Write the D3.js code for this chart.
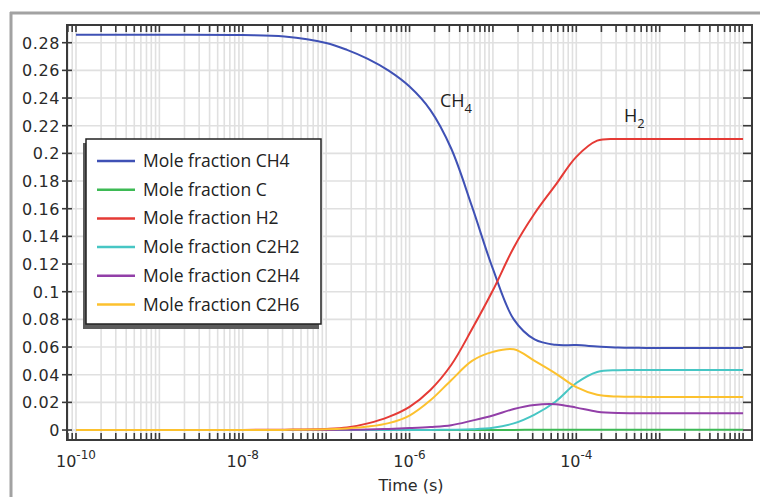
<!DOCTYPE html>
<html><head><meta charset="utf-8">
<script src="https://cdn.jsdelivr.net/npm/d3@7"></script>
<style>body{margin:0;background:#fff}svg{display:block}</style>
</head><body>
<svg id="c" width="760" height="497"></svg>
<script>
// ---- data ----
const timeS = [1e-10, 1e-9, 1e-8, 3.16e-8, 1e-7, 1.78e-7, 3.16e-7, 5.62e-7, 1e-6, 1.78e-6, 3.16e-6, 5.62e-6,
               1e-5, 1.78e-5, 3.16e-5, 5.62e-5, 1e-4, 1.78e-4, 3.16e-4, 5.62e-4, 1e-3, 3.16e-3, 1e-2];
const ch4  = [0.2857, 0.2857, 0.2855, 0.2845, 0.2798, 0.2748, 0.2683, 0.2598, 0.2483, 0.2313, 0.2035, 0.1615,
              0.1165, 0.080, 0.0655, 0.0616, 0.0614, 0.0604, 0.0596, 0.0594, 0.0593, 0.0593, 0.0593];
const c    = [0, 0, 0, 0, 0, 0, 0, 0, 0, 0, 0, 0, 0.0001, 0.0001, 0.0002, 0.0002, 0.0002, 0.0002, 0.0002,
              0.0002, 0.0002, 0.0002, 0.0002];
const h2   = [0, 0, 0.0001, 0.0003, 0.0008, 0.0018, 0.0048, 0.0095, 0.0168, 0.029, 0.047, 0.073,
              0.101, 0.132, 0.1565, 0.177, 0.1975, 0.2092, 0.2104, 0.2104, 0.2104, 0.2104, 0.2104];
const c2h2 = [0, 0, 0, 0, 0, 0, 0, 0, 0, 0.0001, 0.0002, 0.0005, 0.0016, 0.0048, 0.0112, 0.0205,
              0.034, 0.042, 0.0433, 0.0434, 0.0434, 0.0434, 0.0434];
const c2h4 = [0, 0, 0, 0, 0.0001, 0.0002, 0.0004, 0.0008, 0.0014, 0.0022, 0.0035, 0.0068, 0.0105,
              0.0152, 0.0181, 0.0186, 0.0162, 0.0133, 0.0123, 0.0122, 0.0122, 0.0122, 0.0122];
const c2h6 = [0, 0, 0, 0.0001, 0.0005, 0.0012, 0.0025, 0.005, 0.0105, 0.0215, 0.036, 0.050, 0.0565,
              0.0584, 0.050, 0.041, 0.031, 0.0255, 0.0242, 0.024, 0.0239, 0.0239, 0.0239];
const seriesNames = ["Mole fraction CH4", "Mole fraction C", "Mole fraction H2",
                     "Mole fraction C2H2", "Mole fraction C2H4", "Mole fraction C2H6"];
const seriesValues = [ch4, c, h2, c2h2, c2h4, c2h6];
const seriesColors = ["#3f51b5", "#3dba55", "#e53a35", "#47c6c4", "#923fa8", "#fcc12e"];
const yTicks = [0, 0.02, 0.04, 0.06, 0.08, 0.1, 0.12, 0.14, 0.16, 0.18, 0.2, 0.22, 0.24, 0.26, 0.28];
const yTickLabels = ["0", "0.02", "0.04", "0.06", "0.08", "0.1", "0.12", "0.14", "0.16", "0.18",
                     "0.2", "0.22", "0.24", "0.26", "0.28"];
const xMajorTicks = [1e-10, 1e-8, 1e-6, 1e-4];
const xTickExponents = ["-10", "-8", "-6", "-4"];
const xTitle = "Time (s)";

// ---- layout ----
const svg = d3.select("#c");
const L = 67, R = 752, T = 25, B = 440;
const x = d3.scaleLog().domain([7.8e-11, 1.28e-2]).range([L, R]);
const y = d3.scaleLinear().domain([-0.0072, 0.2928]).range([B, T]);

// outer image border (top & left)
svg.append("line").attr("x1", 10).attr("y1", 13).attr("x2", 760).attr("y2", 13)
  .attr("stroke", "#a2a2a2").attr("stroke-width", 3);
svg.append("line").attr("x1", 11).attr("y1", 12).attr("x2", 11).attr("y2", 497)
  .attr("stroke", "#a2a2a2").attr("stroke-width", 3);

// minor/major log positions
const dom = x.domain();
const logTicks = [];
for (let e = -11; e <= -2; e++) for (let m = 1; m < 10; m++) {
  const v = m * Math.pow(10, e);
  if (v >= dom[0] && v <= dom[1]) logTicks.push(v);
}

// grid
const grid = svg.append("g");
grid.selectAll(".vg").data(logTicks).join("line")
  .attr("x1", d => x(d)).attr("x2", d => x(d)).attr("y1", T).attr("y2", B)
  .attr("stroke", "#e0e0e0").attr("stroke-width", 1.6);
grid.selectAll(".hg").data(yTicks).join("line")
  .attr("x1", L).attr("x2", R).attr("y1", d => y(d)).attr("y2", d => y(d))
  .attr("stroke", "#e0e0e0").attr("stroke-width", 1.6);

// curves
svg.append("clipPath").attr("id", "clip").append("rect")
  .attr("x", L).attr("y", T).attr("width", R - L).attr("height", B - T);
const line = d3.line().x(d => x(d[0])).y(d => y(d[1])).curve(d3.curveCatmullRom.alpha(0.5));
const lines = svg.append("g").attr("clip-path", "url(#clip)");
seriesValues.forEach((vals, i) => {
  lines.append("path").datum(timeS.map((t, k) => [t, vals[k]]))
    .attr("d", line).attr("fill", "none")
    .attr("stroke", seriesColors[i]).attr("stroke-width", 2);
});

// frame & ticks
const axes = svg.append("g").attr("stroke", "#3a3a3a");
axes.append("rect").attr("x", L).attr("y", T).attr("width", R - L).attr("height", B - T)
  .attr("fill", "none").attr("stroke-width", 2);
axes.selectAll(".bt").data(logTicks).join("line")
  .attr("x1", d => x(d)).attr("x2", d => x(d)).attr("y1", B).attr("y2", B - 7).attr("stroke-width", 1.6);
axes.selectAll(".tt").data(logTicks).join("line")
  .attr("x1", d => x(d)).attr("x2", d => x(d)).attr("y1", T).attr("y2", T + 7).attr("stroke-width", 1.6);
axes.selectAll(".lt").data(yTicks).join("line")
  .attr("x1", L - 5).attr("x2", L + 5).attr("y1", d => y(d)).attr("y2", d => y(d)).attr("stroke-width", 1.6);
axes.selectAll(".rt").data(yTicks).join("line")
  .attr("x1", R - 9).attr("x2", R).attr("y1", d => y(d)).attr("y2", d => y(d)).attr("stroke-width", 1.6);

// tick labels
const tickFont = "'DejaVu Sans', sans-serif";
svg.append("g").selectAll("text").data(yTicks).join("text")
  .attr("x", 60).attr("y", d => y(d) + 6).attr("text-anchor", "end")
  .attr("font-family", tickFont).attr("font-size", 16).attr("letter-spacing", 0.6)
  .attr("fill", "#2a2a2a").text((d, i) => yTickLabels[i]);
const xl = svg.append("g").selectAll("text").data(xMajorTicks).join("text")
  .attr("x", d => x(d)).attr("y", 467).attr("text-anchor", "middle")
  .attr("font-family", tickFont).attr("font-size", 16).attr("fill", "#2a2a2a");
xl.append("tspan").text("10");
xl.append("tspan").attr("dy", -8).attr("font-size", 12).text((d, i) => xTickExponents[i]);

svg.append("text").attr("x", 411).attr("y", 491).attr("text-anchor", "middle")
  .attr("font-family", tickFont).attr("font-size", 16).attr("fill", "#2a2a2a").text(xTitle);

// legend
const lg = svg.append("g");
lg.append("rect").attr("x", 83).attr("y", 143).attr("width", 236).attr("height", 186).attr("fill", "#5c5c5c");
lg.append("rect").attr("x", 86).attr("y", 139).attr("width", 235).attr("height", 185)
  .attr("fill", "#fff").attr("stroke", "#222").attr("stroke-width", 1.5);
seriesNames.forEach((name, i) => {
  const yy = 161 + i * 28.7;
  lg.append("line").attr("x1", 97).attr("x2", 135).attr("y1", yy).attr("y2", yy)
    .attr("stroke", seriesColors[i]).attr("stroke-width", 2.5);
  lg.append("text").attr("x", 143).attr("y", yy + 6)
    .attr("font-family", "'Open Sans', sans-serif").attr("font-size", 17.5).attr("fill", "#222").text(name);
});

// annotations
function chem(xp, yp, base, sub) {
  const t = svg.append("text").attr("x", xp).attr("y", yp)
    .attr("font-family", "'Open Sans', sans-serif").attr("font-size", 18).attr("fill", "#222");
  t.append("tspan").text(base);
  t.append("tspan").attr("dy", 6).attr("font-size", 13).text(sub);
}
chem(440, 107, "CH", "4");
chem(624, 122, "H", "2");
</script>
</body></html>
